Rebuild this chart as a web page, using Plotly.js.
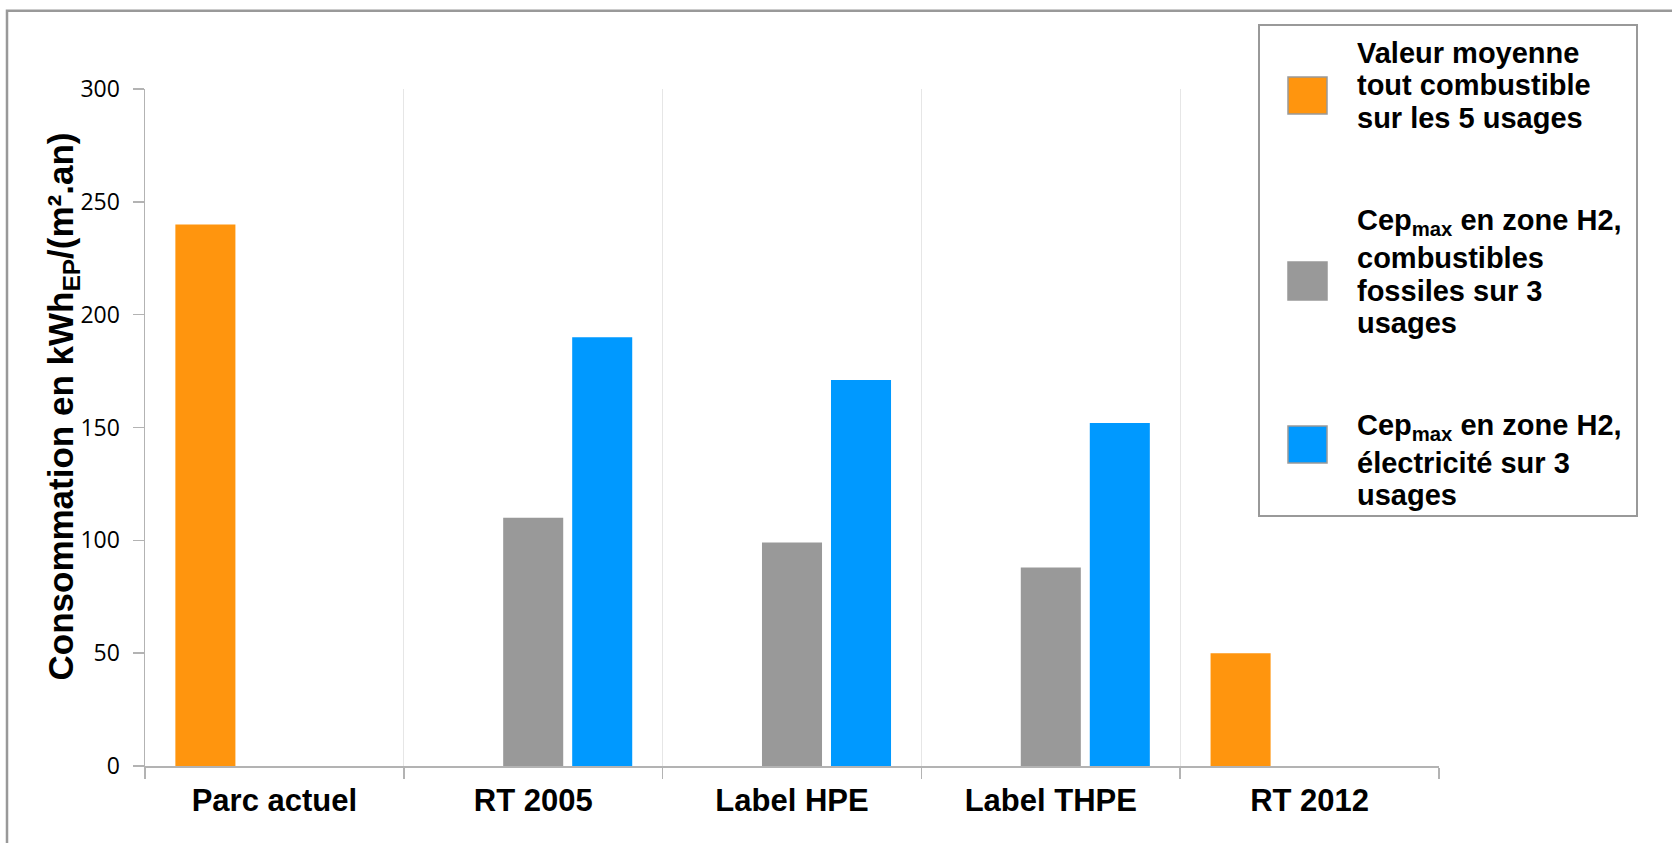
<!DOCTYPE html>
<html>
<head>
<meta charset="utf-8">
<script src="https://cdn.plot.ly/plotly-3.0.1.min.js"></script>
<style>html,body{margin:0;padding:0;background:#fff;}#chart{width:1672px;height:843px;}</style>
</head>
<body>
<div id="chart"></div>
<script>
// ---- data ----
const categories = ['Parc actuel', 'RT 2005', 'Label HPE', 'Label THPE', 'RT 2012'];
const valeurMoyenne = [240, null, null, null, 50];
const cepFossiles   = [null, 110, 99, 88, null];
const cepElectricite = [null, 190, 171, 152, null];
const seriesNames = [
  'Valeur moyenne tout combustible sur les 5 usages',
  'Cep max en zone H2, combustibles fossiles sur 3 usages',
  'Cep max en zone H2, électricité sur 3 usages'
];
const legendLines = [
  ['Valeur moyenne', 'tout combustible', 'sur les 5 usages'],
  ['Cep<sub>max</sub> en zone H2,', 'combustibles', 'fossiles sur 3', 'usages'],
  ['Cep<sub>max</sub> en zone H2,', 'électricité sur 3', 'usages']
];
const yTitle = 'Consommation en kWh<sub>EP</sub>/(m².an)';
const yTicks = [0, 50, 100, 150, 200, 250, 300];

// ---- styles ----
const colors = ['#ff950e', '#999999', '#0099ff'];
const W = 1672, H = 843;
const M = {l: 145, r: 233, t: 89, b: 77};
const PW = W - M.l - M.r, PH = H - M.t - M.b;
const px = x => (x - M.l) / PW;
const py = y => (H - M.b - y) / PH;

const data = [valeurMoyenne, cepFossiles, cepElectricite].map((vals, i) => ({
  type: 'bar',
  x: categories,
  y: vals,
  name: seriesNames[i],
  marker: {color: colors[i], line: {width: 0}},
  hoverinfo: 'x+y+name'
}));

const shapes = [];
const annotations = [];

// outer frame (left + top visible)
shapes.push({type: 'rect', xref: 'paper', yref: 'paper', x0: px(7), x1: px(1720), y0: py(10.8), y1: py(900),
  line: {color: '#999999', width: 2.5}, fillcolor: 'rgba(0,0,0,0)', layer: 'below'});

// legend box
shapes.push({type: 'rect', xref: 'paper', yref: 'paper', x0: px(1259), x1: px(1637), y0: py(25), y1: py(516),
  line: {color: '#999999', width: 2}, fillcolor: '#ffffff', layer: 'above'});

const swatchY = [[77, 114], [262, 300], [426, 463]];
const lineBaselines = [[63, 95.5, 128], [228, 268, 300.5, 333], [433, 473, 505.5]];
swatchY.forEach((yy, i) => {
  shapes.push({type: 'rect', xref: 'paper', yref: 'paper', x0: px(1288), x1: px(1327), y0: py(yy[0]), y1: py(yy[1]),
    line: {color: '#999999', width: 1.5}, fillcolor: colors[i], layer: 'above'});
  legendLines[i].forEach((t, j) => {
    const hasSub = t.indexOf('<sub>') >= 0;
    annotations.push({xref: 'paper', yref: 'paper', x: px(1356), y: py(lineBaselines[i][j] - 10 + (hasSub ? 4 : 0)),
      xanchor: 'left', yanchor: 'middle', showarrow: false, borderpad: 0, align: 'left',
      text: '<b>' + t + '</b>', font: {family: 'Liberation Sans, Arial, sans-serif', size: 29, color: '#000'}});
  });
});

// y-axis title
annotations.push({xref: 'paper', yref: 'paper', x: px(62), y: py(406.5), xanchor: 'center', yanchor: 'middle',
  showarrow: false, textangle: -90, borderpad: 0,
  text: '<b>' + yTitle + '</b>', font: {family: 'Liberation Sans, Arial, sans-serif', size: 35, color: '#000'}});

const layout = {
  width: W, height: H,
  margin: M,
  paper_bgcolor: '#ffffff', plot_bgcolor: '#ffffff',
  barmode: 'group', bargap: 0.2, bargroupgap: 0.13,
  showlegend: false,
  xaxis: {
    type: 'category', tickson: 'boundaries', ticks: 'outside', ticklen: 11, tickwidth: 1.5, tickcolor: '#b3b3b3',
    showline: true, linecolor: '#b3b3b3', linewidth: 2,
    showgrid: true, gridcolor: '#e6e6e6', gridwidth: 1,
    tickfont: {family: 'Liberation Sans, Arial, sans-serif', size: 31, color: '#000', weight: 'bold'},
    ticklabelstandoff: 6,
    zeroline: false, fixedrange: true
  },
  yaxis: {
    range: [0, 300], tickvals: yTicks, ticktext: yTicks.map(String),
    ticks: 'outside', ticklen: 11, tickwidth: 1.5, tickcolor: '#b3b3b3',
    showline: true, linecolor: '#b3b3b3', linewidth: 1.5,
    showgrid: false, zeroline: false,
    tickfont: {family: 'Open Sans, sans-serif', size: 23, color: '#000'},
    ticklabelstandoff: 8, fixedrange: true
  },
  shapes: shapes,
  annotations: annotations,
  font: {family: 'Liberation Sans, Arial, sans-serif'}
};

Plotly.newPlot('chart', data, layout, {displayModeBar: false, staticPlot: true});
</script>
</body>
</html>
